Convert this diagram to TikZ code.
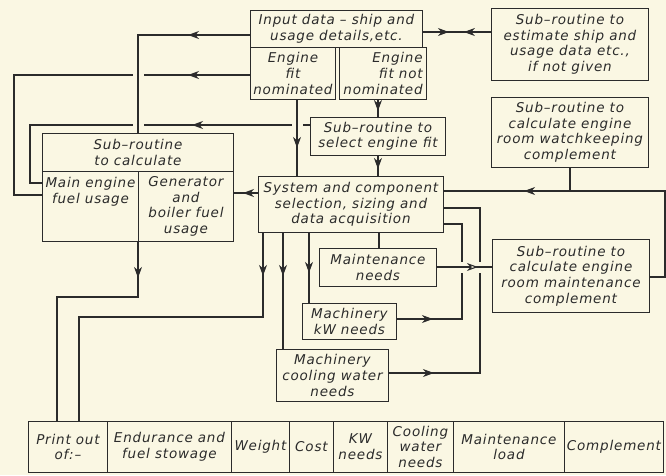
\documentclass[tikz,border=0pt]{standalone}
\usepackage{fontspec}
\setmainfont{DejaVu Sans}[LetterSpace=6]
\usetikzlibrary{arrows.meta,decorations.markings}
\definecolor{paper}{HTML}{FAF7E3}
\definecolor{ink}{HTML}{2B2B2B}
\pgfdeclarelayer{back}
\pgfdeclarelayer{wires}
\pgfsetlayers{back,wires,main}
\newcommand\lettering{\fontsize{13.5}{15.6}\selectfont\itshape}
\begin{document}
\begin{tikzpicture}[x=1pt,y=-1pt,
  box/.style={draw=ink, line width=0.9pt, inner sep=0pt, align=center, text=ink, font=\lettering, anchor=north west},
  lbl/.style={inner sep=0pt, align=center, text=ink, font=\lettering},
  wire/.style={draw=ink, line width=1.1pt},
  tipat/.style={postaction={decorate,decoration={markings,mark=at position #1 with {\arrow{Stealth[length=11pt,width=8pt,inset=3.5pt]}}}}},
  rtipat/.style={postaction={decorate,decoration={markings,mark=at position #1 with {\arrowreversed{Stealth[length=11pt,width=8pt,inset=3.5pt]}}}}},
  otipat/.style={postaction={decorate,decoration={markings,mark=at position #1 with {\arrow{Stealth[length=11pt,width=8pt,inset=3.5pt,fill=paper]}}}}},
  bridge/.style={preaction={draw=paper,line width=11pt}}]
\useasboundingbox (0,0) rectangle (666,475);
\begin{pgfonlayer}{back}
\fill[paper] (0,0) rectangle (666,475);
\end{pgfonlayer}

% boxes
\node[box, minimum width=172pt, minimum height=37pt] (input) at (250,10) {Input data – ship and\\usage details,etc.};
\node[box, minimum width=85pt, minimum height=52pt] (fitnom) at (250,47) {Engine\\fit\\nominated};
\node[box, minimum width=83pt, minimum height=52pt, align=right, inner xsep=4pt] (fitnot) at (339,47) {Engine\\fit not\\nominated};
\node[box, minimum width=157pt, minimum height=72pt] (estimate) at (491,8) {Sub–routine to\\estimate ship and\\usage data etc.,\\if not given};
\node[box, minimum width=157pt, minimum height=70pt] (watch) at (491,97) {Sub–routine to\\calculate engine\\room watchkeeping\\complement};
\node[box, minimum width=135pt, minimum height=38pt] (select) at (310,117) {Sub–routine to\\select engine fit};
\node[box, minimum width=191pt, minimum height=38pt] (calc) at (42,133) {Sub–routine\\to calculate};
\node[box, minimum width=96pt, minimum height=70pt] (mainfuel) at (42,171) {};
\node[lbl, anchor=north] (mainfueltext) at ([yshift=-6pt]mainfuel.north) {Main engine\\fuel usage};
\node[box, minimum width=95pt, minimum height=70pt] (genfuel) at (138,171) {Generator\\and\\boiler fuel\\usage};
\node[box, minimum width=185pt, minimum height=56pt] (system) at (258,176) {System and component\\selection, sizing and\\data acquisition};
\node[box, minimum width=117pt, minimum height=38pt] (maint) at (319,248) {Maintenance\\needs};
\node[box, minimum width=94pt, minimum height=36pt] (kw) at (302,303) {Machinery\\kW needs};
\node[box, minimum width=112pt, minimum height=52pt] (cool) at (276,349) {Machinery\\cooling water\\needs};
\node[box, minimum width=157pt, minimum height=73pt] (maintcomp) at (492,239) {Sub–routine to\\calculate engine\\room maintenance\\complement};

% print-out row
\node[box, minimum width=79pt, minimum height=51pt] (p1) at (28,421) {Print out\\of:–};
\node[box, minimum width=124pt, minimum height=51pt] (p2) at (107,421) {Endurance and\\fuel stowage};
\node[box, minimum width=58pt, minimum height=51pt] (p3) at (231,421) {Weight};
\node[box, minimum width=44pt, minimum height=51pt] (p4) at (289,421) {Cost};
\node[box, minimum width=54pt, minimum height=51pt] (p5) at (333,421) {KW\\needs};
\node[box, minimum width=66pt, minimum height=51pt] (p6) at (387,421) {Cooling\\water\\needs};
\node[box, minimum width=111pt, minimum height=51pt] (p7) at (453,421) {Maintenance\\load};
\node[box, minimum width=99pt, minimum height=51pt] (p8) at (564,421) {Complement};

\coordinate (wjoin) at (watch.south |- 0,191);

\begin{pgfonlayer}{wires}
% lines that are crossed by others (drawn first)
\draw[wire, tipat=62pt] (fitnom.west |- 0,75) -| (14,195) -- (mainfuel.west |- 0,195);
\draw[wire, tipat=118pt] (select.west |- 0,125) -| (30,183) -- (mainfuel.west |- 0,183);
\draw[wire, tipat=45pt] (cool.east |- 0,373) -| (480,208) -- (system.east |- 0,208);
\draw[wire, tipat=36pt] (kw.east |- 0,319) -| (462,224) -- (system.east |- 0,224);
% lines passing over
\draw[wire, bridge, tipat=62pt] (input.west |- 0,35) -| (calc.north -| 138,0);
\draw[wire, bridge, tipat=48pt] (fitnom.south -| 297,0) -- (system.north -| 297,0);
\draw[wire, bridge, otipat=41pt] (maint.east |- 0,267) -- (maintcomp.west |- 0,267);
% others
\draw[wire, tipat=0.65] (fitnot.south -| select.north) -- (select.north);
\draw[wire, tipat=0.65] (select.south) -- (system.north -| select.south);
\draw[wire, tipat=26pt, rtipat=41pt] (input.east |- 0,32) -- (estimate.west |- 0,32);
\draw[wire, tipat=15pt] (system.west |- 0,193) -- (genfuel.east |- 0,193);
\draw[wire] (watch.south) -- (wjoin);
\draw[wire, tipat=242pt] (maintcomp.east |- 0,277) -| (665,191) -- (system.east |- 0,191);
\draw[wire] (system.south -| 379,0) -- (maint.north -| 379,0);
\draw[wire, tipat=40pt] (system.south -| 309,0) -- (kw.north -| 309,0);
\draw[wire, tipat=43pt] (system.south -| 283,0) -- (cool.north -| 283,0);
\draw[wire, tipat=43pt] (system.south -| 263,0) |- (79,317) -- (p1.north -| 79,0);
\draw[wire, tipat=36pt] (genfuel.south west) |- (57,297) -- (p1.north -| 57,0);
\end{pgfonlayer}
\end{tikzpicture}
\end{document}
